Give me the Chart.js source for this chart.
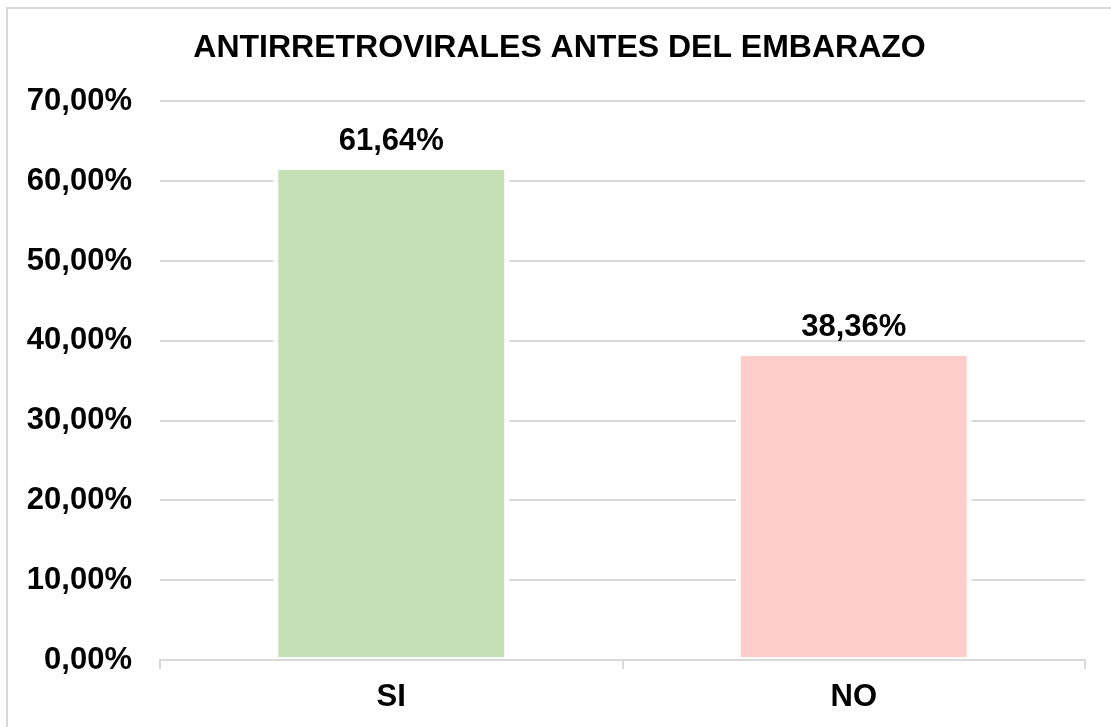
<!DOCTYPE html>
<html>
<head>
<meta charset="utf-8">
<script src="https://cdn.jsdelivr.net/npm/chart.js@4/dist/chart.umd.min.js"></script>
<style>
  body { margin: 0; background: #ffffff; }
  #frame {
    position: absolute; left: 6px; top: 7px; right: 0; bottom: 0;
    border-left: 2px solid #d9d9d9; border-top: 2px solid #d9d9d9;
  }
  #chart { position: absolute; left: 0; top: 0; }
</style>
</head>
<body>
<div id="frame"></div>
<canvas id="chart" width="1111" height="727"></canvas>
<script>
"use strict";

const categories = ["SI", "NO"];
const percentages = [61.64, 38.36];
const barColors = ["#c5e0b4", "#ffcccc"];
const chartTitle = "ANTIRRETROVIRALES ANTES DEL EMBARAZO";

const fontFamily = "'Liberation Sans', Arial, sans-serif";
const gridColor = "#d9d9d9";

function formatPercent(v) {
  return v.toFixed(2).replace(".", ",") + "%";
}

// draws the value above each bar
const valueLabels = {
  id: "valueLabels",
  afterDatasetsDraw(chart) {
    const ctx = chart.ctx;
    const meta = chart.getDatasetMeta(0);
    ctx.save();
    ctx.font = "bold 31px " + fontFamily;
    ctx.fillStyle = "#000000";
    ctx.textAlign = "center";
    ctx.textBaseline = "alphabetic";
    meta.data.forEach((bar, i) => {
      ctx.fillText(formatPercent(percentages[i]), bar.x, bar.y - 18);
    });
    ctx.restore();
  },
};

new Chart(document.getElementById("chart"), {
  type: "bar",
  data: {
    labels: categories,
    datasets: [
      {
        data: percentages,
        backgroundColor: barColors,
        borderColor: "#ffffff",
        borderWidth: { left: 5, right: 5, top: 2, bottom: 2 },
        borderSkipped: false,
        categoryPercentage: 1,
        barPercentage: 0.51,
      },
    ],
  },
  options: {
    responsive: false,
    animation: false,
    layout: {
      padding: { left: 8, right: 0, top: 0, bottom: 0 },
    },
    plugins: {
      legend: { display: false },
      tooltip: { enabled: false },
      title: {
        display: true,
        text: chartTitle,
        color: "#000000",
        font: { family: fontFamily, size: 32, weight: "bold" },
        padding: { top: 29, bottom: 34 },
      },
    },
    scales: {
      x: {
        afterFit: (scale) => { scale.height = 67; },
        border: { display: true, color: gridColor, width: 2 },
        grid: {
          offset: true,
          drawOnChartArea: false,
          drawTicks: true,
          tickLength: 9,
          color: gridColor,
          lineWidth: 2,
        },
        ticks: {
          color: "#000000",
          padding: 10,
          font: { family: fontFamily, size: 31, weight: "bold" },
        },
      },
      y: {
        min: 0,
        max: 70,
        afterFit: (scale) => { scale.width = 152; },
        border: { display: false },
        grid: {
          drawTicks: false,
          color: gridColor,
          lineWidth: 2,
        },
        ticks: {
          stepSize: 10,
          padding: 28,
          color: "#000000",
          font: { family: fontFamily, size: 31, weight: "bold" },
          callback: (v) => formatPercent(v),
        },
      },
      // empty right-hand margin
      yRight: {
        position: "right",
        afterFit: (scale) => { scale.width = 26; },
        border: { display: false },
        grid: { display: false },
        ticks: { display: false },
      },
    },
  },
  plugins: [valueLabels],
});
</script>
</body>
</html>
